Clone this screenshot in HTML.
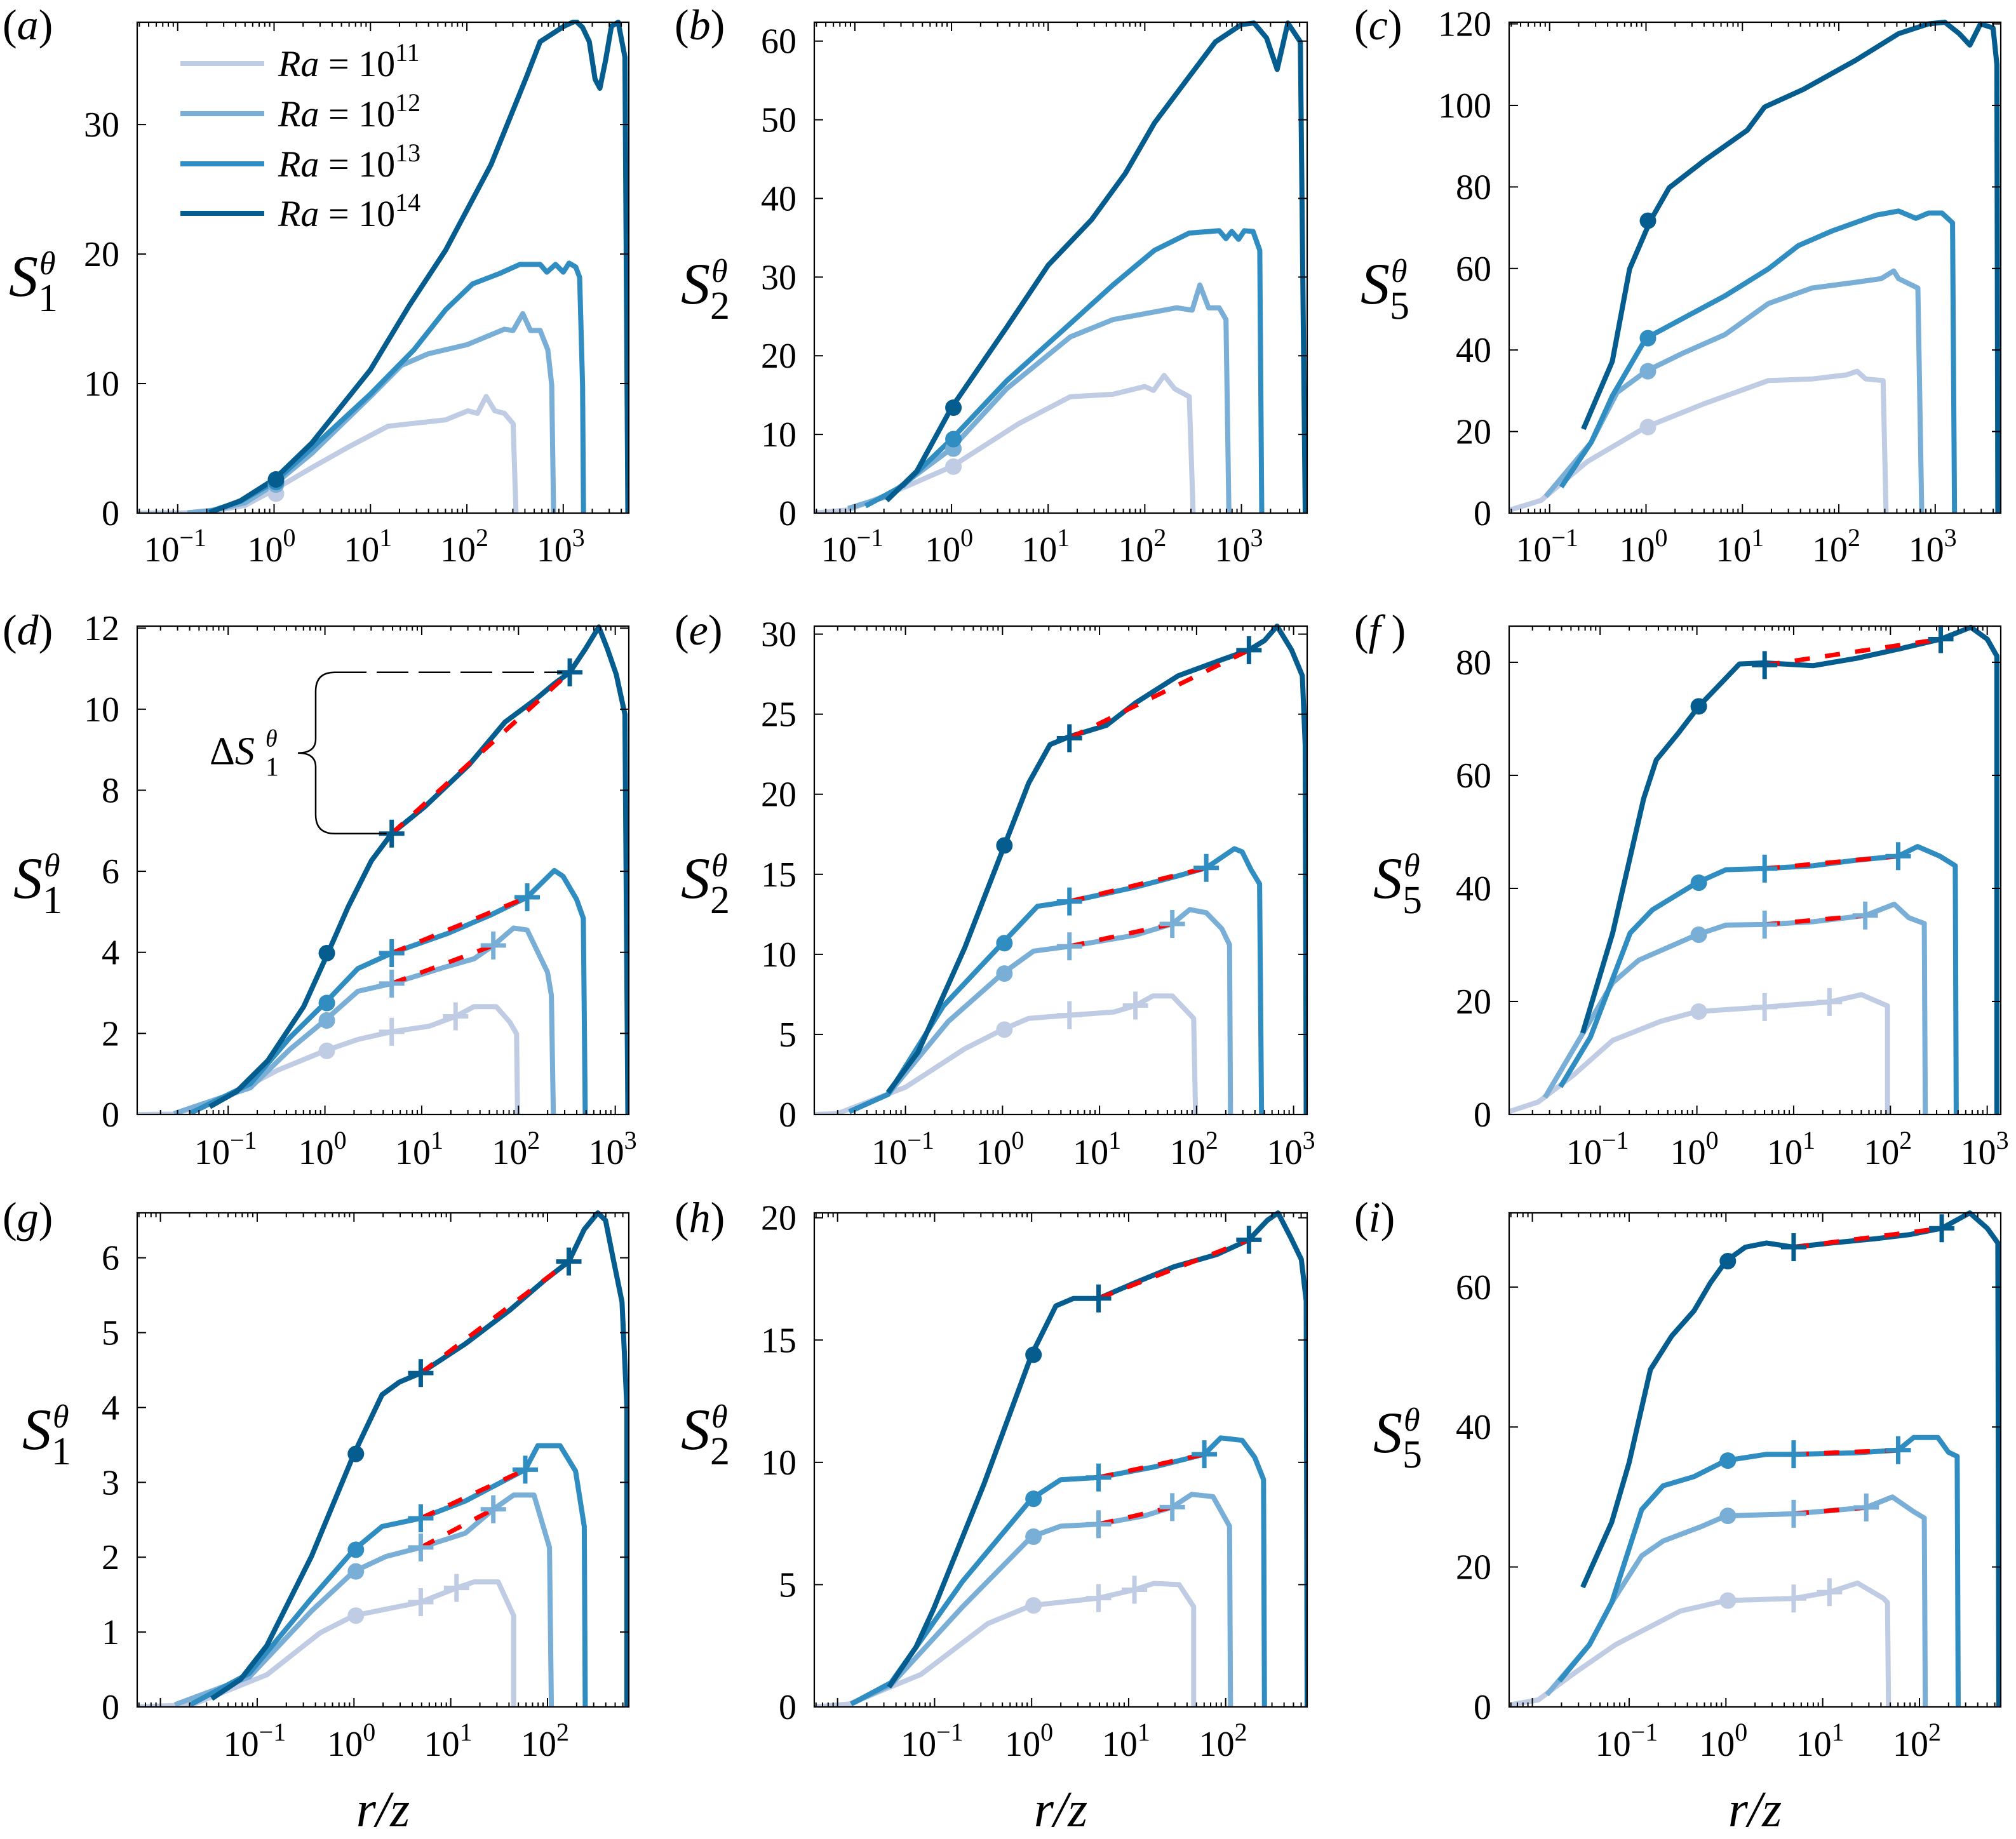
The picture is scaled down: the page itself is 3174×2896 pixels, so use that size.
<!DOCTYPE html>
<html><head><meta charset="utf-8">
<style>
html,body{margin:0;padding:0;background:#fff;}
svg{display:block;}
text{font-family:"Liberation Serif","DejaVu Serif",serif;fill:#000;}
</style></head>
<body>
<svg id="fig" xmlns="http://www.w3.org/2000/svg" width="3174" height="2896" viewBox="0 0 3174 2896"></svg>
<script>
// ---------- data: log10(r/z), S values ----------
const a11=[[-1.42,0],[-0.9,0.02],[-0.6,0.2],[-0.3,0.6],[0,1.8],[0.39,3.5],[0.77,5.1],[1.18,6.7],[1.41,6.9],[1.78,7.2],[2.01,7.9],[2.11,7.7],[2.2,9.0],[2.29,7.9],[2.39,7.7],[2.48,6.9],[2.51,0]];
const a12=[[-0.9,0.02],[-0.6,0.25],[-0.3,0.8],[0,2.2],[0.39,4.6],[1.0,9.0],[1.32,11.4],[1.6,12.3],[2.0,13.0],[2.39,14.2],[2.48,14.1],[2.58,15.4],[2.66,14.1],[2.76,14.1],[2.84,12.6],[2.88,9.9],[2.9,0]];
const a13=[[-0.7,0.05],[-0.35,0.9],[0,2.4],[0.39,5.0],[1.0,9.2],[1.45,12.6],[1.78,15.7],[2.06,17.7],[2.34,18.5],[2.55,19.2],[2.76,19.2],[2.83,18.6],[2.92,19.2],[3.0,18.6],[3.06,19.3],[3.13,19.0],[3.17,18.2],[3.2,9.9],[3.21,0]];
const a14=[[-0.67,0.05],[-0.35,0.95],[0,2.6],[0.39,5.4],[1.0,11.07],[1.4,16.0],[1.78,20.3],[2.25,26.9],[2.62,33.7],[2.76,36.4],[3.01,37.6],[3.13,38],[3.2,37.5],[3.27,36.4],[3.33,33.5],[3.38,32.8],[3.44,35],[3.5,37.6],[3.57,37.9],[3.64,35.2],[3.67,0]];
const b11=[[-1.43,0],[-1.07,0.4],[-0.67,2.3],[0,5.9],[0.7,11.4],[1.23,14.8],[1.67,15.1],[2.0,16.1],[2.09,15.6],[2.2,17.5],[2.31,15.8],[2.46,14.8],[2.5,0]];
const b12=[[-1.07,0.6],[-0.67,2.1],[0,8.2],[0.57,15.8],[1.23,22.4],[1.67,24.6],[2.33,26.1],[2.49,25.8],[2.57,29.0],[2.66,26.1],[2.77,26.1],[2.84,24.6],[2.87,0]];
const b13=[[-0.89,0.9],[-0.5,3.5],[0,9.4],[0.57,16.8],[1.23,24.1],[1.67,29],[2.1,33.4],[2.46,35.6],[2.77,35.9],[2.84,34.9],[2.9,35.8],[2.97,34.8],[3.03,35.9],[3.12,35.8],[3.19,33.4],[3.21,0]];
const b14=[[-0.67,1.6],[-0.36,5.3],[0,13.4],[0.57,23.6],[1.0,31.5],[1.45,37.3],[1.8,43.2],[2.1,49.6],[2.46,55.5],[2.73,59.9],[3.0,62.1],[3.13,62.3],[3.26,60.4],[3.37,56.4],[3.48,62.3],[3.61,59.9],[3.66,0]];
const c11=[[-1.41,0.8],[-1.09,3.1],[-0.61,12.6],[0,21.1],[0.6,26.8],[1.27,32.5],[1.72,32.9],[2.08,33.9],[2.19,34.8],[2.28,32.9],[2.46,32.5],[2.49,0]];
const c12=[[-1.04,4.1],[-0.57,17.3],[-0.3,29.6],[0,34.8],[0.37,39.1],[0.82,43.8],[1.27,51.4],[1.72,55.2],[2.17,56.6],[2.44,57.5],[2.57,59.4],[2.62,57.5],[2.82,55.2],[2.86,0]];
const c13=[[-0.88,6.4],[-0.57,17.3],[-0.35,28.7],[0,42.9],[0.37,47.6],[0.82,53.3],[1.27,59.9],[1.58,65.6],[1.94,69.3],[2.39,73.1],[2.62,74.1],[2.8,72.3],[2.93,73.6],[3.07,73.6],[3.18,71.2],[3.2,0]];
const c14=[[-0.65,20.6],[-0.35,37.2],[-0.17,59.9],[0.045,71.7],[0.24,79.8],[0.6,86.4],[1.05,93.9],[1.23,99.6],[1.63,103.9],[2.17,111],[2.62,117.6],[2.93,120],[3.1,120.4],[3.25,117.6],[3.36,114.8],[3.47,120],[3.6,119],[3.64,110],[3.65,0]];
const d11=[[-1.93,0],[-1.56,0.01],[-1.05,0.38],[-0.49,1.09],[0,1.57],[0.34,1.85],[0.69,2.04],[1.08,2.18],[1.35,2.42],[1.54,2.66],[1.77,2.66],[1.91,2.28],[1.98,1.99],[1.99,0]];
const d12=[[-1.56,0.02],[-0.77,0.66],[-0.36,1.61],[0,2.32],[0.34,3.04],[0.69,3.23],[1.26,3.65],[1.54,3.84],[1.74,4.17],[1.95,4.6],[2.09,4.55],[2.3,3.51],[2.34,2.94],[2.36,0]];
const d13=[[-1.39,0.03],[-0.77,0.76],[-0.36,1.9],[0,2.75],[0.34,3.6],[0.69,3.98],[1.26,4.46],[1.72,4.93],[2.09,5.36],[2.37,6.02],[2.46,5.88],[2.6,5.31],[2.67,4.84],[2.69,0]];
const d14=[[-1.19,0.19],[-0.91,0.57],[-0.59,1.33],[-0.22,2.66],[0.03,3.98],[0.24,5.12],[0.48,6.26],[0.69,6.93],[1.03,7.59],[1.49,8.63],[1.86,9.68],[2.18,10.25],[2.37,10.63],[2.53,10.91],[2.69,11.48],[2.83,12.03],[2.92,11.48],[3.01,10.86],[3.1,9.87],[3.13,0]];
const e11=[[-1.94,0],[-1.7,0.05],[-1.0,1.7],[-0.39,4.1],[0,5.3],[0.27,6.0],[0.69,6.2],[1.15,6.4],[1.37,6.8],[1.55,7.4],[1.75,7.4],[1.97,6.0],[1.99,0]];
const e12=[[-1.58,0.17],[-1.18,1.25],[-0.56,5.8],[0,8.8],[0.32,10.2],[0.69,10.5],[1.37,11.2],[1.75,11.9],[1.93,12.8],[2.1,12.6],[2.26,11.6],[2.34,10.6],[2.35,0]];
const e13=[[-1.58,0.17],[-1.18,1.25],[-0.61,6.77],[0,10.7],[0.36,13.0],[0.69,13.3],[1.37,14.2],[1.81,14.9],[2.1,15.4],[2.39,16.6],[2.47,16.4],[2.56,15.3],[2.65,14.4],[2.67,0]];
const e14=[[-1.18,1.37],[-0.87,3.89],[-0.39,10.4],[0.02,16.8],[0.27,20.7],[0.49,23.1],[0.69,23.6],[1.07,24.3],[1.37,25.7],[1.81,27.4],[2.26,28.4],[2.54,29.0],[2.7,29.6],[2.83,30.5],[2.98,29.0],[3.09,27.4],[3.12,23.1],[3.13,0]];
const f11=[[-1.94,0.5],[-1.64,2.2],[-1.28,6.9],[-0.87,13.1],[-0.37,16.5],[0,18.2],[0.7,19.0],[1.37,19.9],[1.7,21.2],[1.97,19.2],[1.97,0]];
const f12=[[-1.57,3.0],[-0.87,23.3],[-0.6,27.3],[0,31.8],[0.3,33.5],[0.7,33.6],[1.2,34.1],[1.74,35.2],[2.04,37.2],[2.19,34.8],[2.35,33.8],[2.36,0]];
const f13=[[-1.41,4.9],[-1.1,13.7],[-0.69,32.1],[-0.46,36.2],[0,41.0],[0.3,43.3],[0.7,43.5],[1.2,44.0],[1.65,45.0],[2.08,45.7],[2.28,47.4],[2.51,45.7],[2.67,44.0],[2.68,0]];
const f14=[[-1.18,14.4],[-0.87,32.1],[-0.55,55.9],[-0.42,62.7],[-0.19,67.5],[0.02,72.2],[0.21,75.6],[0.44,79.7],[0.7,79.9],[1.2,79.4],[1.65,80.7],[2.1,82.4],[2.52,84.1],[2.83,86.2],[3.0,84.1],[3.1,81.1],[3.1,0]];
const g11=[[-2.23,0],[-1.67,0.03],[-0.9,0.43],[-0.35,0.99],[0,1.22],[0.69,1.4],[1.06,1.59],[1.24,1.67],[1.49,1.67],[1.65,1.22],[1.65,0]];
const g12=[[-1.85,0.03],[-1.08,0.4],[-0.44,1.28],[0,1.81],[0.33,2.01],[0.69,2.13],[1.15,2.32],[1.44,2.64],[1.65,2.83],[1.86,2.83],[2.02,2.13],[2.04,0]];
const g13=[[-1.69,0.03],[-1.08,0.45],[-0.44,1.45],[0,2.1],[0.29,2.41],[0.69,2.52],[1.15,2.75],[1.77,3.17],[1.9,3.49],[2.13,3.49],[2.29,3.15],[2.38,2.41],[2.39,0]];
const g14=[[-1.47,0.11],[-1.17,0.37],[-0.9,0.82],[-0.44,2.01],[0,3.38],[0.29,4.17],[0.47,4.34],[0.69,4.46],[1.15,4.85],[1.61,5.3],[1.97,5.7],[2.22,5.95],[2.38,6.38],[2.52,6.6],[2.6,6.5],[2.68,5.98],[2.77,5.41],[2.82,4.0],[2.82,0]];
const h11=[[-2.24,0],[-1.88,0.12],[-1.14,1.33],[-0.45,3.41],[0,4.15],[0.69,4.45],[1.06,4.79],[1.26,5.05],[1.52,5.0],[1.67,4.1],[1.67,0]];
const h12=[[-1.86,0.12],[-1.45,0.9],[-0.71,4.1],[0,6.96],[0.3,7.39],[0.69,7.47],[1.17,7.82],[1.45,8.17],[1.65,8.69],[1.87,8.6],[2.04,7.39],[2.05,0]];
const h13=[[-1.86,0.12],[-1.45,0.99],[-0.71,5.14],[0,8.51],[0.3,9.29],[0.69,9.38],[1.26,9.81],[1.78,10.33],[1.95,11.0],[2.17,10.9],[2.3,10.2],[2.39,9.3],[2.4,0]];
const h14=[[-1.47,0.81],[-1.19,2.46],[-1.01,4.01],[-0.49,9.12],[0,14.4],[0.25,16.4],[0.43,16.7],[0.69,16.7],[1.04,17.3],[1.47,18.0],[1.91,18.5],[2.24,19.1],[2.43,19.9],[2.54,20.2],[2.67,19.2],[2.78,18.3],[2.83,16.6],[2.84,0]];
const i11=[[-2.23,0.3],[-1.94,1.0],[-1.58,4.7],[-1.14,8.9],[-0.47,13.7],[0,15.2],[0.7,15.5],[1.07,16.4],[1.36,17.7],[1.63,15.5],[1.67,14.9],[1.68,0]];
const i12=[[-1.85,1.75],[-1.41,8.9],[-1.18,14.9],[-0.87,21.6],[-0.65,23.7],[-0.25,25.8],[0,27.3],[0.7,27.6],[1.45,28.5],[1.72,30.0],[1.94,27.9],[2.05,27.0],[2.06,0]];
const i13=[[-1.72,3.7],[-1.41,8.9],[-1.18,14.9],[-0.87,28.2],[-0.65,31.6],[-0.33,32.9],[0,35.2],[0.42,36.1],[0.7,36.1],[1.32,36.3],[1.78,36.7],[1.94,38.5],[2.19,38.5],[2.3,36.4],[2.39,35.8],[2.4,0]];
const i14=[[-1.48,17.1],[-1.18,26.4],[-1.0,34.9],[-0.78,48.2],[-0.56,53.0],[-0.33,56.6],[-0.16,60.6],[0,63.7],[0.2,65.7],[0.42,66.3],[0.7,65.7],[1.09,66.3],[1.54,66.9],[1.9,67.5],[2.23,68.4],[2.52,70.6],[2.7,68.4],[2.81,66.3],[2.82,0]];

// dot markers at r/z = 1 (Ra 1e11..1e14)
const dotA=[1.5,2.2,2.4,2.6], dotB=[5.9,8.2,9.4,13.4], dotC=[21.1,34.8,42.9,71.7];
const dotD=[1.57,2.32,2.75,3.98], dotE=[5.3,8.8,10.7,16.8], dotF=[18.2,31.8,41.0,72.2];
const dotG=[1.22,1.81,2.1,3.38], dotH=[4.15,6.96,8.51,14.4], dotI=[15.2,27.3,35.2,63.7];
// plus markers: log10 x start/end and values
const plusD_x1=[0.69,0.69,0.69,0.69], plusD_x2=[1.35,1.74,2.09,2.53], plusD_y1=[2.04,3.23,3.98,6.93], plusD_y2=[2.42,4.17,5.36,10.91];
const plusE_x1=[0.69,0.69,0.69,0.69], plusE_x2=[1.37,1.75,2.1,2.54], plusE_y1=[6.2,10.5,13.3,23.5], plusE_y2=[6.8,11.9,15.4,29.0];
const plusF_x1=[0.7,0.7,0.7,0.7], plusF_x2=[1.37,1.74,2.08,2.52], plusF_y1=[19.0,33.6,43.5,79.5], plusF_y2=[19.9,35.2,45.7,84.1];
const plusG_x1=[0.69,0.69,0.69,0.69], plusG_x2=[1.06,1.44,1.77,2.22], plusG_y1=[1.4,2.13,2.52,4.46], plusG_y2=[1.59,2.64,3.17,5.95];
const plusH_x1=[0.69,0.69,0.69,0.69], plusH_x2=[1.06,1.45,1.78,2.24], plusH_y1=[4.45,7.47,9.38,16.7], plusH_y2=[4.79,8.17,10.33,19.1];
const plusI_x1=[0.7,0.7,0.7,0.7], plusI_x2=[1.07,1.45,1.78,2.23], plusI_y1=[15.5,27.6,36.1,65.7], plusI_y2=[16.4,28.5,36.7,68.4];

const yTicksA=[0,10,20,30], yTicksB=[0,10,20,30,40,50,60], yTicksC=[0,20,40,60,80,100,120];
const yTicksD=[0,2,4,6,8,10,12], yTicksE=[0,5,10,15,20,25,30], yTicksF=[0,20,40,60,80];
const yTicksG=[0,1,2,3,4,5,6], yTicksH=[0,5,10,15,20], yTicksI=[0,20,40,60];
const xDecades=[-1,0,1,2,3];
const legendLabels=['11','12','13','14'];

// ---------- layout ----------
const COLORS=['#c0cce4','#79aed6','#2f8dc1','#045c8f'];
const NS='http://www.w3.org/2000/svg';
const svg=document.getElementById('fig');
function el(tag,attrs,parent){const e=document.createElementNS(NS,tag);for(const k in attrs)e.setAttribute(k,attrs[k]);(parent||svg).appendChild(e);return e;}

const COLS=[[216,990],[1282,2058],[2376,3150]];
const ROWS=[[35,808],[986,1755],[1910,2688]];
const XR=[[-1.42,3.68],[-1.94,3.14],[-2.24,2.84]];
const LBLY=[884,1833,2765];

const panels=[
 {id:'a',r:0,c:0,ymax:37.9,ticks:yTicksA,series:[a11,a12,a13,a14],dots:dotA,ylab:'1',tx:14,ty:436},
 {id:'b',r:0,c:1,ymax:62.4,ticks:yTicksB,series:[b11,b12,b13,b14],dots:dotB,ylab:'2',tx:1072,ty:448},
 {id:'c',r:0,c:2,ymax:120.4,ticks:yTicksC,series:[c11,c12,c13,c14],dots:dotC,ylab:'5',tx:2142,ty:448},
 {id:'d',r:1,c:0,ymax:12.05,ticks:yTicksD,series:[d11,d12,d13,d14],dots:dotD,px1:plusD_x1,px2:plusD_x2,py1:plusD_y1,py2:plusD_y2,ylab:'1',tx:21,ty:1384},
 {id:'e',r:1,c:1,ymax:30.5,ticks:yTicksE,series:[e11,e12,e13,e14],dots:dotE,px1:plusE_x1,px2:plusE_x2,py1:plusE_y1,py2:plusE_y2,ylab:'2',tx:1072,ty:1384},
 {id:'f',r:1,c:2,ymax:86.4,ticks:yTicksF,series:[f11,f12,f13,f14],dots:dotF,px1:plusF_x1,px2:plusF_x2,py1:plusF_y1,py2:plusF_y2,ylab:'5',tx:2162,ty:1384},
 {id:'g',r:2,c:0,ymax:6.6,ticks:yTicksG,series:[g11,g12,g13,g14],dots:dotG,px1:plusG_x1,px2:plusG_x2,py1:plusG_y1,py2:plusG_y2,ylab:'1',tx:35,ty:2252},
 {id:'h',r:2,c:1,ymax:20.2,ticks:yTicksH,series:[h11,h12,h13,h14],dots:dotH,px1:plusH_x1,px2:plusH_x2,py1:plusH_y1,py2:plusH_y2,ylab:'2',tx:1072,ty:2252},
 {id:'i',r:2,c:2,ymax:70.6,ticks:yTicksI,series:[i11,i12,i13,i14],dots:dotI,px1:plusI_x1,px2:plusI_x2,py1:plusI_y1,py2:plusI_y2,ylab:'5',tx:2162,ty:2257}
];
const labelX=[4,1062,2132];
const labelY=[62,1015,1940];

const defs=el('defs',{});
panels.forEach(p=>{
  const [x0,x1]=COLS[p.c],[y0,y1]=ROWS[p.r],[lmin,lmax]=XR[p.r];
  const xs=v=>x0+(v-lmin)/(lmax-lmin)*(x1-x0);
  const ys=v=>y1-v/p.ymax*(y1-y0);
  const g=el('g',{});
  
  
  const cp=el('clipPath',{id:'clip-'+p.id},defs);
  el('rect',{x:x0,y:y0-4,width:x1-x0,height:y1-y0+4},cp);

  const pl=el('text',{x:labelX[p.c],y:labelY[p.r],'font-size':68},g);
  
  
  pl.appendChild(document.createTextNode('('));
  const it=el('tspan',{'font-style':'italic'},pl);it.textContent=p.id;
  pl.appendChild(document.createTextNode(p.id==='f'?' )':')'));

  const yt=el('g',{},g);
  
  
  const s=el('text',{x:p.tx,y:p.ty+30,'font-size':92,'font-style':'italic'},yt);s.textContent='S';
  const sb=el('text',{x:p.tx+46,y:p.ty+54,'font-size':62},yt);sb.textContent=p.ylab;
  const sp=el('text',{x:p.tx+48,y:p.ty-4,'font-size':52,'font-style':'italic'},yt);sp.textContent='θ';

  const sg=el('g',{'clip-path':'url(#clip-'+p.id+')'},g);
  p.series.forEach((ser,k)=>{
    const d=ser.map((pt,j)=>(j?'L':'M')+xs(pt[0]).toFixed(1)+' '+ys(pt[1]).toFixed(1)).join(' ');
    const path=el('path',{d:d,fill:'none',stroke:COLORS[k],'stroke-width':8,'stroke-linejoin':'round','stroke-linecap':'butt'},sg);
    
    
  });
  if(p.px1){
    for(let k=1;k<4;k++){
      const fl=el('line',{x1:xs(p.px1[k]),y1:ys(p.py1[k]),x2:xs(p.px2[k]),y2:ys(p.py2[k]),stroke:'#ff0000','stroke-width':7,'stroke-dasharray':'24 24'},sg);
      
      
    }
  }
  p.dots.forEach((v,k)=>{
    const c=el('circle',{cx:xs(0)+3,cy:ys(v),r:13,fill:COLORS[k]},sg);
    
    
  });
  if(p.px1){
    for(let k=0;k<4;k++){
      [[p.px1[k],p.py1[k]],[p.px2[k],p.py2[k]]].forEach((q,m)=>{
        const cx=xs(q[0]),cy=ys(q[1]);
        const pm=el('path',{d:`M${cx-20} ${cy} L${cx+20} ${cy} M${cx} ${cy-22} L${cx} ${cy+22}`,stroke:COLORS[k],'stroke-width':7,fill:'none'},sg);
        
        
      });
    }
  }

  const fr=el('rect',{x:x0,y:y0,width:x1-x0,height:y1-y0,fill:'none',stroke:'#000','stroke-width':2.2},g);
  
  

  const xt=el('g',{stroke:'#000','stroke-width':2},g);
  
  
  for(let n=Math.floor(lmin);n<=Math.ceil(lmax);n++){
    for(let m=1;m<10;m++){
      const lv=n+Math.log10(m);
      if(lv<lmin||lv>lmax)continue;
      const L=m===1?14:7,X=xs(lv);
      el('line',{x1:X,y1:y1,x2:X,y2:y1-L},xt);
      el('line',{x1:X,y1:y0,x2:X,y2:y0+L},xt);
    }
  }
  xDecades.forEach(n=>{
    if(n<lmin||n>lmax)return;
    const t=el('text',{x:xs(n)-4,y:LBLY[p.r],'font-size':56,'text-anchor':'middle'},g);
    
    
    t.appendChild(document.createTextNode('10'));
    const sup=el('tspan',{'font-size':40,dy:-24},t);sup.textContent=n<0?'−'+(-n):String(n);
  });
  const ytk=el('g',{stroke:'#000','stroke-width':2},g);
  
  
  p.ticks.forEach(v=>{
    const Y=ys(v);
    el('line',{x1:x0,y1:Y,x2:x0+14,y2:Y},ytk);
    el('line',{x1:x1,y1:Y,x2:x1-14,y2:Y},ytk);
    const t=el('text',{x:x0-28,y:Y+19,'font-size':56,'text-anchor':'end'},g);
    
    
    t.textContent=String(v);
  });

  if(p.r===2){
    const xtl=el('text',{x:(x0+x1)/2,y:2876,'font-size':80,'font-style':'italic','text-anchor':'middle'},g);
    
    
    xtl.textContent='r/z';
  }

  if(p.id==='a'){
    const lg=el('g',{},g);
    
    
    const LY=[100,179,258,336];
    legendLabels.forEach((lab,k)=>{
      const en=el('g',{},lg);
      
      
      el('line',{x1:284,y1:LY[k],x2:416,y2:LY[k],stroke:COLORS[k],'stroke-width':8},en);
      const t=el('text',{x:438,y:LY[k]+20,'font-size':58},en);
      const ra=el('tspan',{'font-style':'italic'},t);ra.textContent='Ra';
      t.appendChild(document.createTextNode(' = 10'));
      const sup=el('tspan',{'font-size':40,dy:-24},t);sup.textContent=lab;
    });
  }

  if(p.id==='d'){
    const an=el('g',{},g);
    
    
    const yTop=ys(p.py2[3]),yBot=ys(p.py1[3]),ym=(yTop+yBot)/2,xb=497;
    el('path',{d:`M${xb+30} ${yTop} Q${xb} ${yTop} ${xb} ${yTop+30} L${xb} ${ym-22} Q${xb} ${ym} ${xb-28} ${ym} Q${xb} ${ym} ${xb} ${ym+22} L${xb} ${yBot-30} Q${xb} ${yBot} ${xb+30} ${yBot} L${xs(p.px1[3])-8} ${yBot}`,fill:'none',stroke:'#000','stroke-width':2.5},an);
    el('line',{x1:xb+30,y1:yTop,x2:xs(p.px2[3])-12,y2:yTop,stroke:'#000','stroke-width':2.5,'stroke-dasharray':'50 16'},an);
    const t=el('text',{x:330,y:ym+18,'font-size':62},an);
    t.appendChild(document.createTextNode('Δ'));
    const si=el('tspan',{'font-style':'italic'},t);si.textContent='S';
    el('text',{x:418,y:ym+36,'font-size':42},an).textContent='1';
    el('text',{x:418,y:ym-10,'font-size':38,'font-style':'italic'},an).textContent='θ';
  }
});
</script>
</body></html>
